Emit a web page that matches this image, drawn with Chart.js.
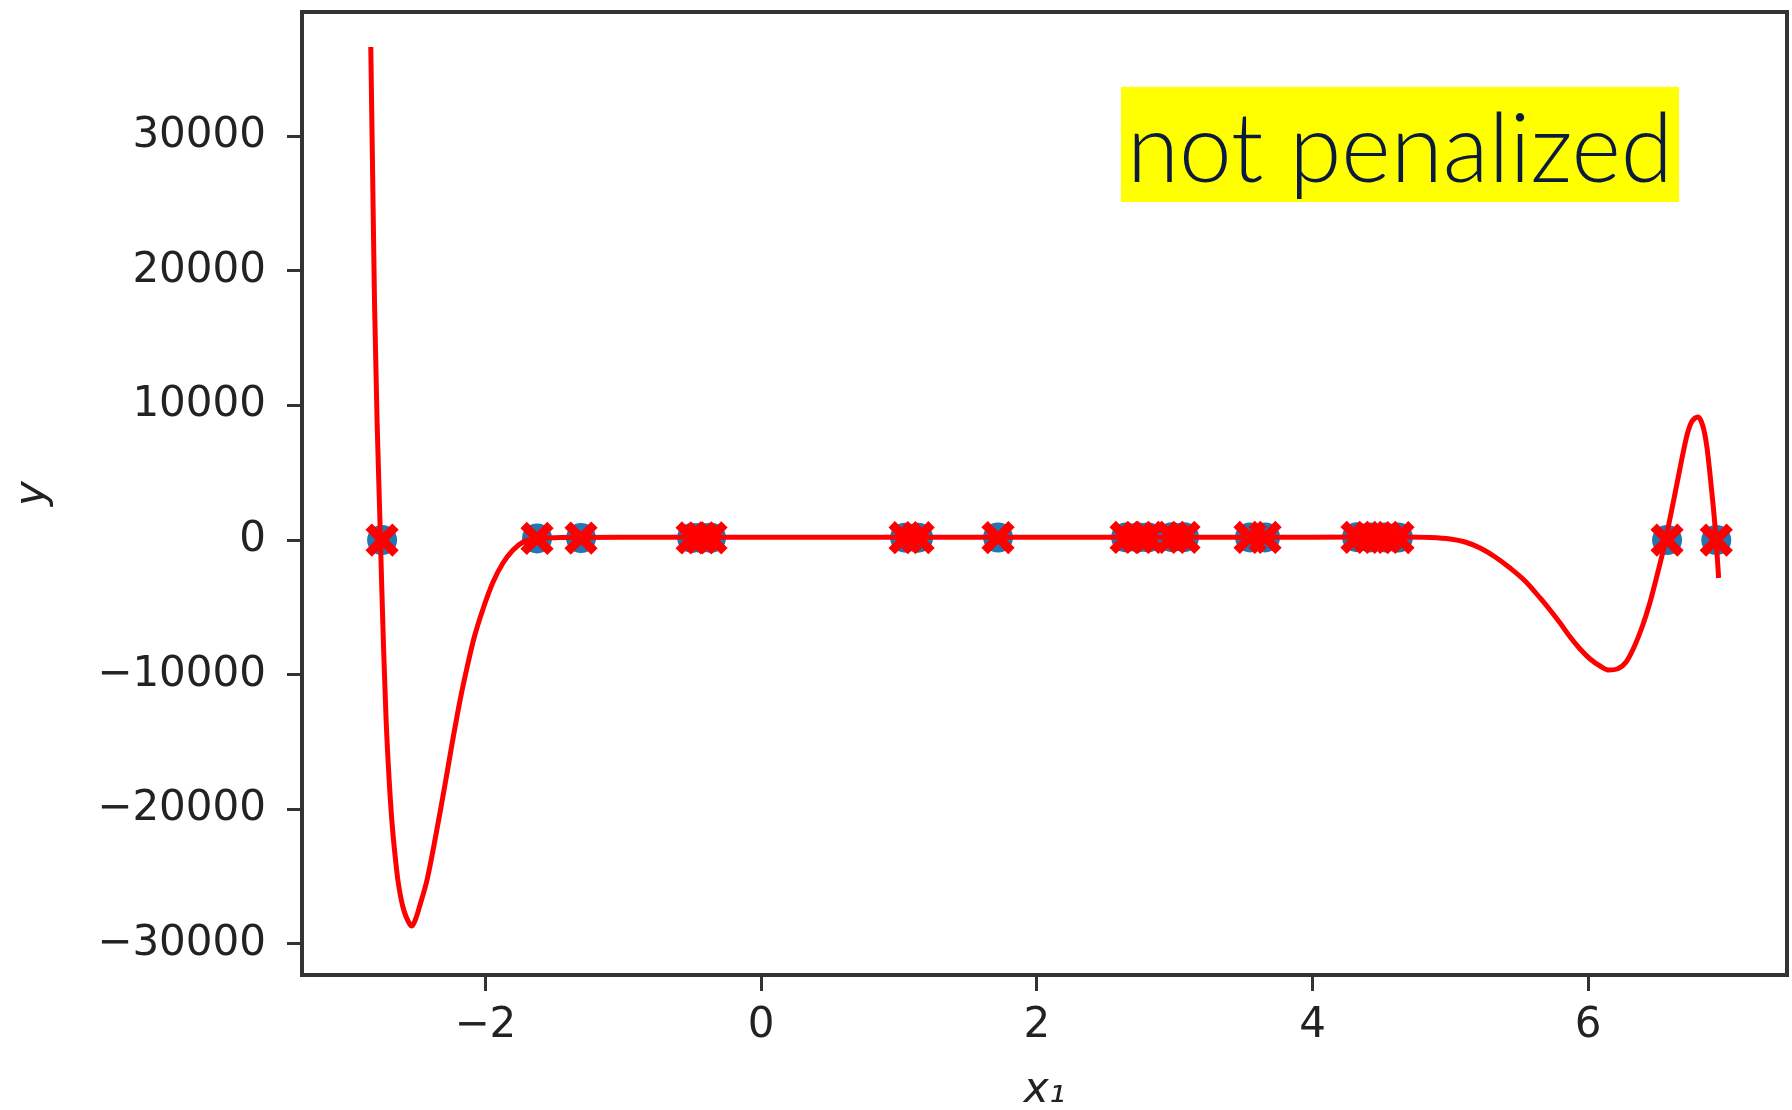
<!DOCTYPE html>
<html>
<head>
<meta charset="utf-8">
<script src="https://cdn.jsdelivr.net/npm/chart.js@4.4.0/dist/chart.umd.min.js"></script>
<style>
  html, body { margin: 0; padding: 0; background: #fff; }
  #wrap { width: 1792px; height: 1110px; }
</style>
</head>
<body>
<div id="wrap"><canvas id="fit" width="1792" height="1110"></canvas></div>
<script>
// training samples
const sampleX = [-2.749, -1.625, -1.306, -0.500, -0.435, -0.363, 1.045, 1.139, 1.719,
                 2.648, 2.735, 2.807, 2.981, 3.068, 3.547, 3.656, 4.323, 4.417, 4.526, 4.620,
                 6.572, 6.929];
const sampleY = [0, 120, 150, 160, 170, 170, 180, 180, 190,
                 200, 200, 200, 210, 210, 200, 200, 210, 200, 200, 190,
                 0, 0];

// unpenalized polynomial fit, evaluated along x
const fitX = [-2.831, -2.818, -2.804, -2.785, -2.767, -2.753, -2.738, -2.720, -2.698, -2.676,
              -2.654, -2.633, -2.597, -2.546, -2.532, -2.503, -2.474, -2.423, -2.379, -2.328,
              -2.278, -2.234, -2.183, -2.132, -2.082, -2.017, -1.944, -1.872, -1.799, -1.726,
              -1.654, -1.400, -1.000, -0.500, 0.000, 0.500, 1.000, 1.500, 2.000, 2.500,
              3.000, 3.500, 4.000, 4.635, 4.853, 4.998, 5.107, 5.216, 5.325, 5.433,
              5.542, 5.651, 5.723, 5.796, 5.869, 5.941, 6.014, 6.086, 6.152, 6.210,
              6.275, 6.333, 6.391, 6.449, 6.500, 6.543, 6.579, 6.616, 6.652, 6.688,
              6.717, 6.746, 6.775, 6.797, 6.819, 6.841, 6.862, 6.884, 6.906, 6.928,
              6.946];
const fitY = [36627, 27490, 17635, 8721, 2273, -2927, -8127, -13326, -17783, -21126,
              -23503, -25360, -27291, -28560, -28664, -28070, -27104, -25247, -23019, -20196,
              -17299, -14699, -11877, -9426, -7272, -5118, -3112, -1701, -735, -141,
              82, 200, 220, 220, 220, 220, 220, 220, 220, 220,
              220, 220, 220, 230, 193, 82, -141, -587, -1255, -2072,
              -3038, -4301, -5192, -6158, -7198, -8089, -8832, -9352, -9649, -9575,
              -9055, -7940, -6455, -4598, -2593, -810, 899, 2756, 4613, 6470,
              7807, 8698, 9070, 9144, 8847, 8104, 6841, 4836, 2608, 7,
              -2815];

const xTicks = [-2, 0, 2, 4, 6];
const yTicks = [-30000, -20000, -10000, 0, 10000, 20000, 30000];
const labelText = 'not penalized';

function minusFmt(v) {
  return v < 0 ? '\u2212' + Math.abs(v) : String(v);
}

// box round the plot area
const framePlugin = {
  id: 'frame',
  afterDraw(chart) {
    const { ctx, chartArea: a } = chart;
    ctx.save();
    ctx.strokeStyle = '#333';
    ctx.lineWidth = 4;
    ctx.strokeRect(a.left, a.top, a.right - a.left, a.bottom - a.top);
    ctx.restore();
  }
};

// yellow tag in the upper right
const tagPlugin = {
  id: 'tag',
  afterDraw(chart) {
    const ctx = chart.ctx;
    ctx.save();
    ctx.fillStyle = '#ffff00';
    ctx.fillRect(1121, 87, 558, 115);
    ctx.font = '300 96px Lato';
    const w = ctx.measureText(labelText).width;
    ctx.translate(1127, 182);
    ctx.scale(546 / w, 1);
    ctx.fillStyle = '#0a1b3d';
    ctx.textBaseline = 'alphabetic';
    ctx.fillText(labelText, 0, 0);
    ctx.restore();
  }
};

const tickFont = { family: 'DejaVu Sans', size: 42 };
const titleFont = { family: 'DejaVu Sans', size: 42, style: 'italic', lineHeight: 0.9 };

new Chart(document.getElementById('fit'), {
  type: 'scatter',
  data: {
    datasets: [
      {
        data: sampleX.map((x, i) => ({ x, y: sampleY[i] })),
        pointStyle: 'crossRot',
        pointRadius: 19,
        borderWidth: 9,
        borderColor: '#ff0000',
        backgroundColor: '#ff0000',
        order: 0
      },
      {
        data: fitX.map((x, i) => ({ x, y: fitY[i] })),
        showLine: true,
        pointRadius: 0,
        borderColor: '#ff0000',
        borderWidth: 5,
        cubicInterpolationMode: 'monotone',
        order: 1
      },
      {
        data: sampleX.map((x, i) => ({ x, y: sampleY[i] })),
        pointStyle: 'circle',
        pointRadius: 15,
        borderWidth: 0,
        backgroundColor: '#1f77b4',
        order: 2
      }
    ]
  },
  options: {
    responsive: false,
    animation: false,
    devicePixelRatio: 1,
    layout: { autoPadding: false, padding: { top: 12, right: 5, left: 0, bottom: 0 } },
    plugins: { legend: { display: false }, tooltip: { enabled: false } },
    scales: {
      x: {
        type: 'linear',
        min: -3.330,
        max: 7.442,
        afterBuildTicks: s => { s.ticks = xTicks.map(v => ({ value: v })); },
        afterFit: s => { s.height = 135; s.paddingLeft = 0; s.paddingRight = 0; },
        grid: { drawOnChartArea: false, drawTicks: true, tickLength: 16, tickWidth: 3, tickColor: '#333' },
        border: { display: false },
        ticks: { padding: 10, font: tickFont, color: '#222', maxRotation: 0, autoSkip: false, callback: minusFmt },
        title: { display: true, text: 'x\u2081', font: titleFont, color: '#222', padding: { top: 0, bottom: 0 } }
      },
      y: {
        type: 'linear',
        min: -32305,
        max: 39227,
        afterBuildTicks: s => { s.ticks = yTicks.map(v => ({ value: v })); },
        afterFit: s => { s.width = 302; s.paddingTop = 0; s.paddingBottom = 0; },
        grid: { drawOnChartArea: false, drawTicks: true, tickLength: 15, tickWidth: 3, tickColor: '#333' },
        border: { display: false },
        ticks: { padding: 21, font: tickFont, color: '#222', autoSkip: false, callback: minusFmt },
        title: { display: true, text: 'y', font: titleFont, color: '#222', padding: { top: 14, bottom: 0 } }
      }
    }
  },
  plugins: [framePlugin, tagPlugin]
});
</script>
</body>
</html>
